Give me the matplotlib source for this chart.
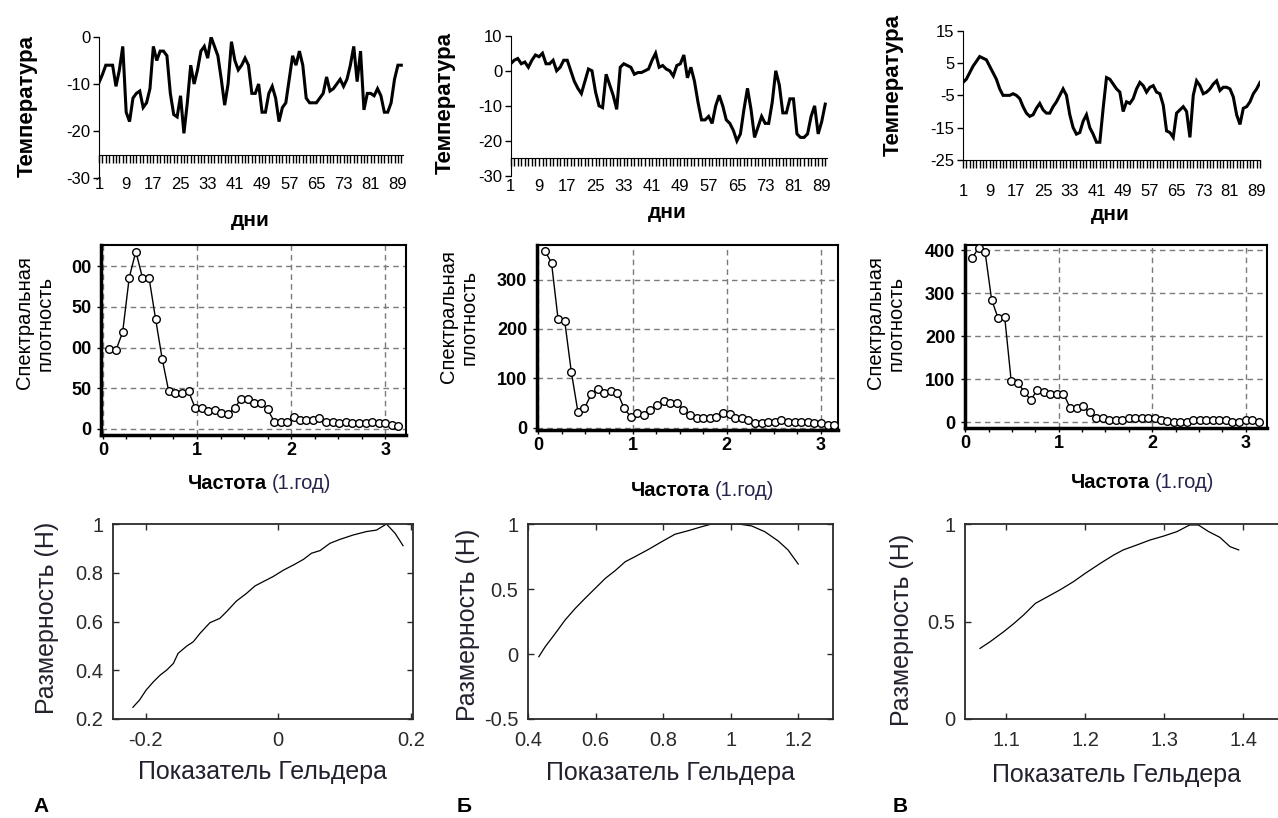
import numpy as np
import matplotlib
matplotlib.use('Agg')
import matplotlib.pyplot as plt
from matplotlib.ticker import FixedLocator, MultipleLocator

W, H = 1278, 818
plt.rcParams['font.family'] = ['Liberation Sans', 'DejaVu Sans']
plt.rcParams['axes.unicode_minus'] = False

# --- temperature, days 1..90 ---
days = list(range(1, 91))
tempA = [-9.7, -8, -6, -6, -6, -10.5, -7, -2, -16, -18, -13, -12, -11.5, -15, -14, -11, -2, -5, -3, -3,
         -4, -12, -16.5, -17, -12.5, -20.5, -14, -6, -10, -7, -3, -2, -4.5, 0, -2, -4, -9, -14.5, -10, -1,
         -5, -7, -6, -4.5, -6, -12, -12, -10, -16, -16, -12, -10.5, -13, -18, -15, -14, -9, -4, -6, -3,
         -6, -13, -14, -14, -14, -13, -12, -8.5, -11.5, -11, -10, -9, -10.5, -9, -6, -2, -9.5, -3, -15.5, -12,
         -12, -12.5, -11, -12.5, -16, -16, -14, -9, -6, -6]
tempB = [2, 3, 3.5, 2, 2.5, 1, 3, 4.5, 4, 5, 2, 2, 3, 0, 1, 3, 3, 0, -3, -5,
         -6.5, -3, 0.5, 0, -6, -10, -10.5, -1, -4, -7, -11, 1, 2, 1.5, 1, -1, -0.5, -0.5, 0, 0.5,
         3, 5, 1, 1.5, 0.5, 0, -1.5, 1.5, 2, 4.5, -2, 1, -3, -9, -14, -14, -13, -15, -10, -7,
         -10, -14, -15, -17, -20, -18, -11, -5, -11, -19, -16, -13, -15, -15, -9, 0, -4, -12, -12, -8,
         -8, -18, -19, -19, -18, -13, -10, -18, -14.5, -9.5]
tempC = [-1, 0, 2, 4, 5.5, 7, 6.5, 6, 4, 2, 0, -3, -5, -5, -5, -4.5, -5, -6, -8.5, -10.5,
         -11.5, -11, -9, -7.5, -9.5, -10.5, -10.5, -8.5, -7, -5, -3, -5, -11, -15, -17, -16.5, -13, -11, -15, -17,
         -19.5, -19.5, -9, 0.5, 0, -1.5, -3, -4, -10, -7, -7.5, -6, -3, -1, -2, -4, -2.5, -2, -4, -4.5,
         -8, -16, -16.5, -18, -10.5, -9.5, -8.5, -10, -18, -5, -0.5, -2, -4.5, -4, -3, -1.5, -0.5, -3.5, -2.5, -2.5,
         -3, -5.5, -11, -14, -9, -8.5, -7, -4.5, -3, -1]

# --- spectral density ---
freq = [0.07, 0.14, 0.21, 0.28, 0.35, 0.42, 0.49, 0.56, 0.63, 0.70, 0.77, 0.84, 0.91, 0.98, 1.05,
        1.12, 1.19, 1.26, 1.33, 1.40, 1.47, 1.54, 1.61, 1.68, 1.75, 1.82, 1.89, 1.96, 2.03, 2.09,
        2.16, 2.23, 2.30, 2.37, 2.44, 2.51, 2.58, 2.65, 2.72, 2.79, 2.86, 2.93, 3.00, 3.07, 3.14]
specA = [98, 97, 119, 186, 218, 186, 186, 135, 86, 46, 44, 44, 46, 26, 26, 22, 23, 19, 18, 26,
         37, 37, 32, 32, 24, 9, 9, 9, 15, 11, 11, 11, 13, 8, 9, 7, 8, 7, 7, 7, 9, 7, 7, 5, 3]
specB = [358, 334, 219, 216, 113, 32, 39, 67, 78, 71, 74, 71, 39, 22, 30, 26, 36, 46, 53, 49,
         49, 36, 26, 19, 19, 20, 22, 30, 27, 20, 19, 15, 9, 9, 12, 11, 15, 12, 12, 12, 11, 9, 9, 5, 5]
specC = [381, 405, 396, 285, 242, 245, 96, 92, 71, 52, 76, 71, 67, 67, 67, 34, 34, 37, 23, 11,
         10, 6, 6, 6, 11, 11, 11, 11, 11, 6, 4, 1, 2, 2, 6, 6, 6, 6, 6, 6, 2, 2, 6, 6, 2]

# --- multifractal spectra ---
holdA = [-0.219, -0.209, -0.199, -0.188, -0.178, -0.168, -0.158, -0.151, -0.138, -0.128, -0.118, -0.103,
         -0.088, -0.078, -0.063, -0.048, -0.035, -0.023, -0.008, 0.008, 0.023, 0.038, 0.050, 0.063,
         0.078, 0.093, 0.113, 0.133, 0.148, 0.163, 0.176, 0.188]
dimA = [0.248, 0.278, 0.319, 0.353, 0.380, 0.401, 0.428, 0.469, 0.499, 0.517, 0.551, 0.595,
        0.613, 0.640, 0.684, 0.715, 0.746, 0.763, 0.784, 0.811, 0.832, 0.855, 0.880, 0.891,
        0.921, 0.937, 0.955, 0.969, 0.975, 1.0, 0.962, 0.911]
holdB = [0.432, 0.451, 0.481, 0.510, 0.540, 0.569, 0.599, 0.629, 0.658, 0.688, 0.717, 0.757,
         0.796, 0.835, 0.875, 0.914, 0.944, 0.983, 1.023, 1.062, 1.101, 1.141, 1.170, 1.200]
dimB = [-0.021, 0.056, 0.159, 0.262, 0.351, 0.428, 0.505, 0.582, 0.641, 0.710, 0.749, 0.805,
        0.864, 0.921, 0.949, 0.979, 1.0, 1.0, 1.0, 0.985, 0.941, 0.869, 0.800, 0.692]
holdC = [1.067, 1.080, 1.097, 1.109, 1.122, 1.137, 1.151, 1.168, 1.185, 1.200, 1.219, 1.236,
         1.248, 1.265, 1.282, 1.299, 1.316, 1.332, 1.343, 1.356, 1.370, 1.383, 1.394]
dimC = [0.362, 0.397, 0.448, 0.487, 0.533, 0.593, 0.624, 0.662, 0.704, 0.747, 0.798, 0.841,
        0.867, 0.892, 0.918, 0.938, 0.961, 0.995, 0.995, 0.961, 0.932, 0.884, 0.867]

fig = plt.figure(figsize=(W / 100, H / 100), dpi=100)


def box(l, t, r, b):
    return [l / W, 1 - b / H, (r - l) / W, (b - t) / H]


def put(x, y, s, **kw):
    fig.text(x / W, 1 - y / H, s, ha=kw.pop('ha', 'center'), va=kw.pop('va', 'center'), **kw)


# ---------------- row 1: temperature ----------------
row1 = [(tempA, box(99, 37, 403, 178), (-30, 0), 10, 90.5, 10),
        (tempB, box(510.7, 35.7, 827, 176), (-30, 10), 10, 90.5, 9),
        (tempC, box(963, 30.7, 1260, 160), (-25, 15), 10, 90, 11.5)]
for temp, pos, ylim, ystep, xmax, xpad in row1:
    ax = fig.add_axes(pos)
    ax.plot(days, temp, color='black', lw=2.2, solid_joinstyle='miter')
    ax.set_xlim(1, xmax)
    ax.set_ylim(*ylim)
    ax.spines['top'].set_visible(False)
    ax.spines['right'].set_visible(False)
    ax.spines['bottom'].set_position(('data', -25))
    ax.set_yticks(np.arange(ylim[0], ylim[1] + 1, ystep))
    ax.xaxis.set_major_locator(FixedLocator(days[::8]))
    ax.xaxis.set_minor_locator(MultipleLocator(1))
    ax.set_xticklabels([str(d) for d in days[::8]])
    ax.tick_params(axis='x', which='both', direction='out', length=6, width=1, pad=xpad, labelsize=12)
    ax.tick_params(axis='y', direction='out', length=4, width=1, pad=2, labelsize=12)
    ax.patch.set_alpha(0)

put(27, 106, 'Температура', rotation=90, fontsize=16, fontweight='bold')
put(445, 103, 'Температура', rotation=90, fontsize=16, fontweight='bold')
put(893, 85, 'Температура', rotation=90, fontsize=16, fontweight='bold')
put(250, 220, 'дни', fontsize=15, fontweight='bold')
put(667, 212, 'дни', fontsize=15, fontweight='bold')
put(1110, 215, 'дни', fontsize=15, fontweight='bold')

# ---------------- row 2: spectral density ----------------
row2 = [(specA, box(101, 245, 406, 435), (-0.02, 3.22), (-7.5, 226), [0, 50, 100, 150, 200],
         ['0', '50', '00', '50', '00']),
        (specB, box(537, 245, 838, 430), (-0.014, 3.18), (-5, 370), [0, 100, 200, 300],
         ['0', '100', '200', '300']),
        (specC, box(965, 245, 1267, 428), (-0.005, 3.23), (-13, 412), [0, 100, 200, 300, 400],
         ['0', '100', '200', '300', '400'])]
for spec, pos, xlim, ylim, yt, ytl in row2:
    ax = fig.add_axes(pos)
    ax.plot(freq, spec, color='black', lw=1, marker='o', markersize=5.5, clip_on=False,
            markerfacecolor='white', markeredgecolor='black', markeredgewidth=1, zorder=3)
    ax.set_xlim(*xlim)
    ax.set_ylim(*ylim)
    ax.set_xticks([0, 1, 2, 3])
    ax.xaxis.set_minor_locator(MultipleLocator(0.25))
    ax.set_yticks(yt)
    ax.set_yticklabels(ytl)
    ax.grid(True, which='major', linestyle=(0, (4, 3)), color='#7a7a7a', lw=1)
    for s in ['left', 'bottom']:
        ax.spines[s].set_linewidth(2.5)
    for s in ['top', 'right']:
        ax.spines[s].set_linewidth(1.5)
    ax.tick_params(axis='both', which='both', direction='out', length=3, width=1)
    ax.tick_params(axis='x', pad=2, labelsize=13)
    ax.tick_params(axis='y', pad=4, labelsize=13)
    for lab in ax.get_xticklabels() + ax.get_yticklabels():
        lab.set_fontweight('bold')

for cx, ry in [(35, 323), (459, 317), (886, 323)]:
    put(cx, ry, 'Спектральная\nплотность', rotation=90, fontsize=14.5, linespacing=1.1)
put(267, 484, 'Частота', ha='right', fontsize=14.5, fontweight='bold')
put(272, 484, '(1.год)', ha='left', fontsize=14.5, color='#24244a')
put(710, 490, 'Частота', ha='right', fontsize=14.5, fontweight='bold')
put(715, 490, '(1.год)', ha='left', fontsize=14.5, color='#24244a')
put(1150, 483, 'Частота', ha='right', fontsize=14.5, fontweight='bold')
put(1155, 483, '(1.год)', ha='left', fontsize=14.5, color='#24244a')

# ---------------- row 3: multifractal spectrum ----------------
row3 = [(holdA, dimA, box(113, 524, 413, 719), (-0.249, 0.203), (0.2, 1.0),
         [-0.2, 0, 0.2], ['-0.2', '0', '0.2'], [0.2, 0.4, 0.6, 0.8, 1.0], ['0.2', '0.4', '0.6', '0.8', '1'], True),
        (holdB, dimB, box(528, 524, 833, 719), (0.4, 1.303), (-0.5, 1.0),
         [0.4, 0.6, 0.8, 1.0, 1.2], ['0.4', '0.6', '0.8', '1', '1.2'], [-0.5, 0, 0.5, 1.0], ['-0.5', '0', '0.5', '1'], True),
        (holdC, dimC, box(965, 524, 1283, 719), (1.048, 1.45), (0.0, 1.0),
         [1.1, 1.2, 1.3, 1.4], ['1.1', '1.2', '1.3', '1.4'], [0, 0.5, 1.0], ['0', '0.5', '1'], False)]
for hx, dy, pos, xlim, ylim, xt, xtl, yt, ytl, rticks in row3:
    ax = fig.add_axes(pos)
    ax.plot(hx, dy, color='black', lw=0.9)
    ax.set_xlim(*xlim)
    ax.set_ylim(*ylim)
    ax.set_xticks(xt)
    ax.set_xticklabels(xtl)
    ax.set_yticks(yt)
    ax.set_yticklabels(ytl)
    for s in ax.spines.values():
        s.set_linewidth(1.3)
        s.set_color('#2a2a2a')
    ax.tick_params(axis='both', direction='in', length=4, width=1, top=True, right=rticks,
                   labelsize=14.5, colors='#2a2a2a')
    ax.tick_params(axis='x', pad=9)
    ax.tick_params(axis='y', pad=7)

for cx, cy in [(47, 618), (468, 625), (902, 630)]:
    put(cx, cy, 'Размерность (Н)', rotation=90, fontsize=18, color='#22222e')
for cx, cy in [(263, 772), (670, 773), (1117, 775)]:
    put(cx, cy, 'Показатель Гельдера', fontsize=18, color='#22222e')

put(41, 806, 'А', fontsize=15, fontweight='bold')
put(464, 807, 'Б', fontsize=15, fontweight='bold')
put(900, 807, 'В', fontsize=15, fontweight='bold')

fig.savefig('out.png', dpi=100)
